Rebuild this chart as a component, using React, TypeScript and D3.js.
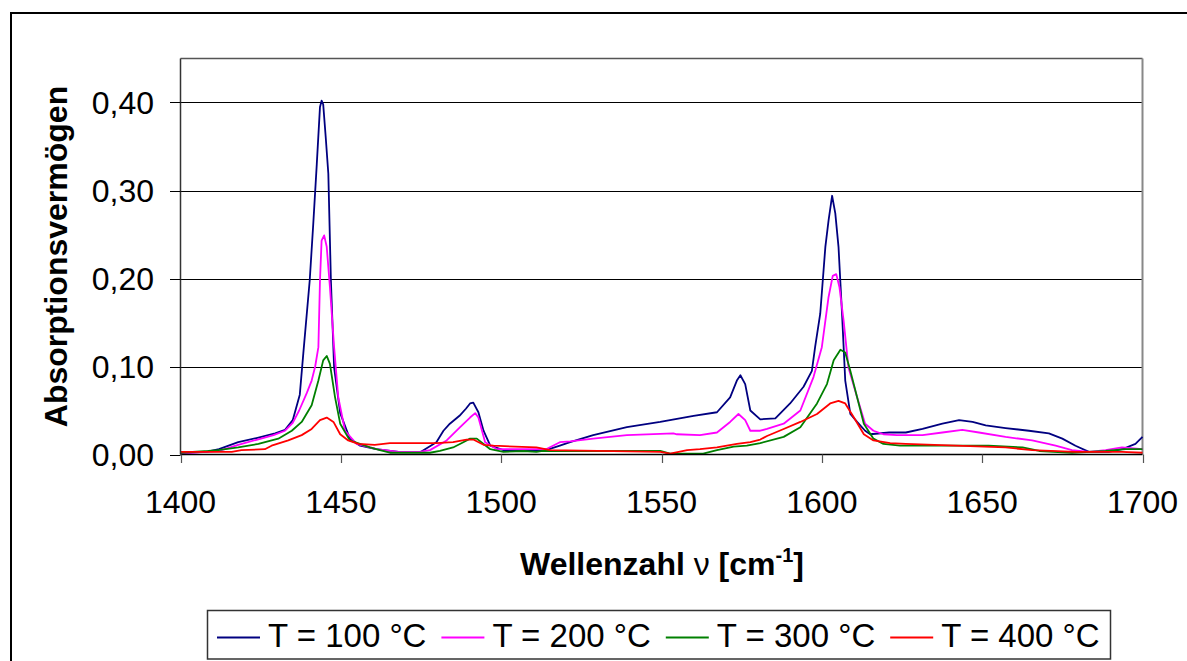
import React from "react";
import * as d3 from "d3";

type Pt = [number, number];

const xTicks = [1400, 1450, 1500, 1550, 1600, 1650, 1700];
const yTicks = [0, 0.1, 0.2, 0.3, 0.4];
const seriesNames = ["T = 100 °C", "T = 200 °C", "T = 300 °C", "T = 400 °C"];
const seriesColors = ["#000080", "#FF00FF", "#008000", "#FF0000"];

const t100: Pt[] = [
  [1400, 0.002], [1408, 0.003], [1412, 0.006], [1418, 0.014], [1424, 0.019], [1429.5, 0.024],
  [1432.6, 0.028], [1435, 0.039], [1437.2, 0.068], [1438.3, 0.115], [1440.3, 0.198], [1441.4, 0.262],
  [1442.5, 0.33], [1443.5, 0.395], [1444, 0.402], [1444.5, 0.398], [1445.3, 0.36], [1446.1, 0.319],
  [1446.9, 0.198], [1447.9, 0.099], [1449.8, 0.047], [1452.8, 0.018], [1456, 0.01], [1461, 0.006],
  [1468, 0.003], [1475, 0.003], [1479.8, 0.014], [1482, 0.027], [1484, 0.035], [1487, 0.044],
  [1489, 0.052], [1490.3, 0.058], [1491.3, 0.059], [1492.9, 0.048], [1494.5, 0.027], [1496.6, 0.01],
  [1500.7, 0.005], [1508, 0.005], [1514, 0.005], [1518.3, 0.01], [1521.5, 0.014], [1528.7, 0.022],
  [1539.2, 0.031], [1549.6, 0.037], [1560, 0.044], [1567.3, 0.048], [1571.4, 0.065], [1573.5, 0.084],
  [1574.6, 0.09], [1576.1, 0.08], [1577.7, 0.05], [1580.8, 0.04], [1585.5, 0.041], [1590.1, 0.058],
  [1594.3, 0.077], [1596.9, 0.095], [1597.9, 0.122], [1599.5, 0.16], [1601.1, 0.236], [1602.1, 0.266],
  [1603.2, 0.294], [1604.2, 0.274], [1605.2, 0.236], [1606.3, 0.16], [1607.3, 0.084], [1608.9, 0.046],
  [1611, 0.037], [1613.5, 0.027], [1615.1, 0.023], [1621, 0.025], [1626.2, 0.025], [1631.4, 0.029],
  [1637.6, 0.035], [1642.8, 0.039], [1647, 0.037], [1651.1, 0.033], [1657.3, 0.03], [1664.6, 0.027],
  [1670.8, 0.024], [1675, 0.018], [1679.1, 0.01], [1683.3, 0.003], [1689.5, 0.003], [1693.6, 0.006],
  [1697.8, 0.012], [1700, 0.02],
];

const t200: Pt[] = [
  [1400, 0.001], [1408, 0.003], [1412, 0.004], [1418, 0.011], [1424, 0.017], [1429, 0.022],
  [1432.6, 0.027], [1435, 0.036], [1437, 0.05], [1439.4, 0.07], [1440.9, 0.084], [1442, 0.1],
  [1443, 0.122], [1443.5, 0.198], [1444, 0.243], [1444.8, 0.249], [1445.6, 0.236], [1446.6, 0.19],
  [1447.9, 0.122], [1449.2, 0.065], [1451.3, 0.027], [1454.9, 0.012], [1461.2, 0.006], [1468, 0.003],
  [1474.6, 0.003], [1477.8, 0.005], [1483, 0.016], [1487.2, 0.031], [1490.3, 0.042], [1491.9, 0.047],
  [1492.9, 0.042], [1495, 0.014], [1498.7, 0.006], [1508, 0.006], [1514, 0.006], [1518.3, 0.014],
  [1521.5, 0.015], [1528.7, 0.018], [1539.2, 0.022], [1553.7, 0.024], [1554.8, 0.023], [1562, 0.022],
  [1567.3, 0.025], [1571.4, 0.037], [1574, 0.046], [1576.1, 0.039], [1577.7, 0.027], [1580.8, 0.027],
  [1582.9, 0.029], [1588.1, 0.035], [1593.3, 0.05], [1597.4, 0.088], [1600, 0.122], [1602.1, 0.179],
  [1603.4, 0.203], [1604.5, 0.205], [1605.5, 0.19], [1606.8, 0.152], [1608.3, 0.099], [1611, 0.065],
  [1613.5, 0.035], [1616.1, 0.027], [1619.2, 0.023], [1623.4, 0.022], [1631.4, 0.022], [1637.6, 0.025],
  [1643.8, 0.028], [1649, 0.025], [1657.3, 0.02], [1665.6, 0.016], [1672.9, 0.01], [1678, 0.005],
  [1683.3, 0.003], [1688.5, 0.005], [1693.6, 0.008], [1700, 0.006],
];

const t300: Pt[] = [
  [1400, 0.002], [1408.7, 0.004], [1411.8, 0.005], [1418, 0.008], [1424.3, 0.012], [1430.5, 0.018],
  [1434.7, 0.027], [1437.8, 0.037], [1440.9, 0.056], [1443, 0.084], [1444.5, 0.107], [1445.6, 0.112],
  [1446.6, 0.103], [1448.2, 0.065], [1449.8, 0.035], [1452.8, 0.016], [1459.1, 0.008], [1462.2, 0.005],
  [1465.3, 0.002], [1477.8, 0.002], [1480.9, 0.004], [1485, 0.008], [1488.2, 0.014], [1490.3, 0.018],
  [1492.4, 0.018], [1494.5, 0.012], [1496.6, 0.006], [1500.7, 0.003], [1507, 0.004], [1511, 0.003],
  [1513, 0.004], [1521.5, 0.004], [1549.6, 0.004], [1552.7, 0.001], [1563, 0.001], [1567.3, 0.005],
  [1572.5, 0.009], [1576.6, 0.01], [1580.8, 0.013], [1588.1, 0.02], [1593.3, 0.031], [1598.5, 0.058],
  [1601.6, 0.08], [1603.7, 0.107], [1605.8, 0.119], [1607.3, 0.116], [1608.9, 0.095], [1611, 0.065],
  [1613.1, 0.035], [1616.1, 0.018], [1619.2, 0.012], [1624.4, 0.01], [1652, 0.01], [1662.6, 0.008],
  [1667.8, 0.004], [1678, 0.002], [1688.5, 0.004], [1694.8, 0.006], [1700, 0.006],
];

const t400: Pt[] = [
  [1400, 0.003], [1416, 0.003], [1419, 0.005], [1426.3, 0.006], [1428.4, 0.01], [1433.6, 0.016],
  [1437.8, 0.022], [1440.9, 0.029], [1443.5, 0.039], [1445.6, 0.042], [1447.7, 0.037], [1449.8, 0.023],
  [1452.3, 0.016], [1455.5, 0.012], [1460.6, 0.011], [1465.3, 0.013], [1479.8, 0.013], [1485, 0.014],
  [1489.2, 0.017], [1491.3, 0.017], [1494.5, 0.011], [1497.6, 0.01], [1511, 0.008], [1515.3, 0.005],
  [1549.6, 0.003], [1552.7, 0.001], [1558, 0.005], [1562, 0.006], [1567.3, 0.008], [1573.5, 0.012],
  [1577.7, 0.014], [1580.8, 0.017], [1582.9, 0.021], [1588.1, 0.029], [1593.3, 0.037], [1598.5, 0.046],
  [1602.6, 0.058], [1605.2, 0.061], [1607.3, 0.058], [1610, 0.042], [1613.1, 0.023], [1616.1, 0.016],
  [1621.3, 0.013], [1626.2, 0.012], [1641.8, 0.01], [1657.3, 0.008], [1665.6, 0.005], [1679.1, 0.003],
  [1693.6, 0.003], [1700, 0.002],
];

const seriesData = [t100, t200, t300, t400];

const W = 1187;
const H = 661;
const plot = { left: 180.5, right: 1142.5, top: 58.5, bottom: 454.5 };
const FONT = "'Liberation Sans', Arial, sans-serif";

export default function App() {
  const x = d3.scaleLinear().domain([1400, 1700]).range([plot.left, plot.right]);
  const y = d3.scaleLinear().domain([0, 0.45]).range([plot.bottom, plot.top]);
  const line = d3
    .line<Pt>()
    .x((d) => x(d[0]))
    .y((d) => y(d[1]));
  const fmt = (v: number) => d3.format(".2f")(v).replace(".", ",");
  const legendX0 = 217;
  const legendStep = 224.4;

  return (
    <svg
      width={W}
      height={H}
      style={{ position: "absolute", left: 0, top: 0, background: "#fff" }}
      fontFamily={FONT}
    >
      <rect x={0} y={0} width={W} height={H} fill="#fff" />
      {/* outer chart border */}
      <rect x={11} y={13} width={1300} height={800} fill="none" stroke="#000" strokeWidth={2} />

      {/* gridlines */}
      {yTicks.filter((t) => t > 0).map((t) => (
        <line key={"g" + t} x1={plot.left} x2={plot.right} y1={Math.round(y(t)) + 0.5} y2={Math.round(y(t)) + 0.5} stroke="#000" strokeWidth={1} />
      ))}
      {/* plot border */}
      <line x1={plot.left} x2={plot.right} y1={plot.top} y2={plot.top} stroke="#555" strokeWidth={1.5} />
      <line x1={plot.right} x2={plot.right} y1={plot.top} y2={plot.bottom} stroke="#888" strokeWidth={2} />

      {/* series */}
      {seriesData.map((d, i) => (
        <path key={"s" + i} d={line(d) || ""} fill="none" stroke={seriesColors[i]} strokeWidth={1.8} strokeLinejoin="round" />
      ))}

      {/* axes */}
      <line x1={plot.left} x2={plot.left} y1={plot.top} y2={plot.bottom} stroke="#333" strokeWidth={1.5} />
      <line x1={plot.left} x2={plot.right} y1={plot.bottom} y2={plot.bottom} stroke="#000" strokeWidth={1.5} />
      {yTicks.map((t) => (
        <g key={"yt" + t}>
          <line x1={170} x2={plot.left} y1={Math.round(y(t)) + 0.5} y2={Math.round(y(t)) + 0.5} stroke="#000" />
          <text x={154} y={y(t) + 11.5} textAnchor="end" fontSize={32} fill="#000">
            {fmt(t)}
          </text>
        </g>
      ))}
      {xTicks.map((t) => (
        <g key={"xt" + t}>
          <line x1={Math.round(x(t)) + 0.5} x2={Math.round(x(t)) + 0.5} y1={plot.bottom} y2={463} stroke="#555" strokeWidth={1.2} />
          <text x={x(t)} y={513} textAnchor="middle" fontSize={32} fill="#000">
            {t}
          </text>
        </g>
      ))}

      {/* axis titles */}
      <text x={662} y={575} textAnchor="middle" fontSize={32} fontWeight="bold" fill="#000">
        Wellenzahl <tspan fontWeight="normal">ν</tspan> [cm
        <tspan fontSize={20} dy={-13}>-1</tspan>
        <tspan dy={13}>]</tspan>
      </text>
      <text
        transform={`translate(67,${(plot.top + plot.bottom) / 2}) rotate(-90)`}
        textAnchor="middle"
        fontSize={32}
        fontWeight="bold"
        fill="#000"
      >
        Absorptionsvermögen
      </text>

      {/* legend */}
      <rect x={207.5} y={610.5} width={903} height={48.5} fill="#fff" stroke="#333" strokeWidth={1.5} />
      {seriesNames.map((n, i) => {
        const lx = legendX0 + i * legendStep;
        return (
          <g key={"l" + i}>
            <line x1={lx} x2={lx + 43} y1={637.5} y2={637.5} stroke={seriesColors[i]} strokeWidth={1.8} />
            <text x={lx + 51} y={647} fontSize={33} fill="#000">
              {n}
            </text>
          </g>
        );
      })}
    </svg>
  );
}
